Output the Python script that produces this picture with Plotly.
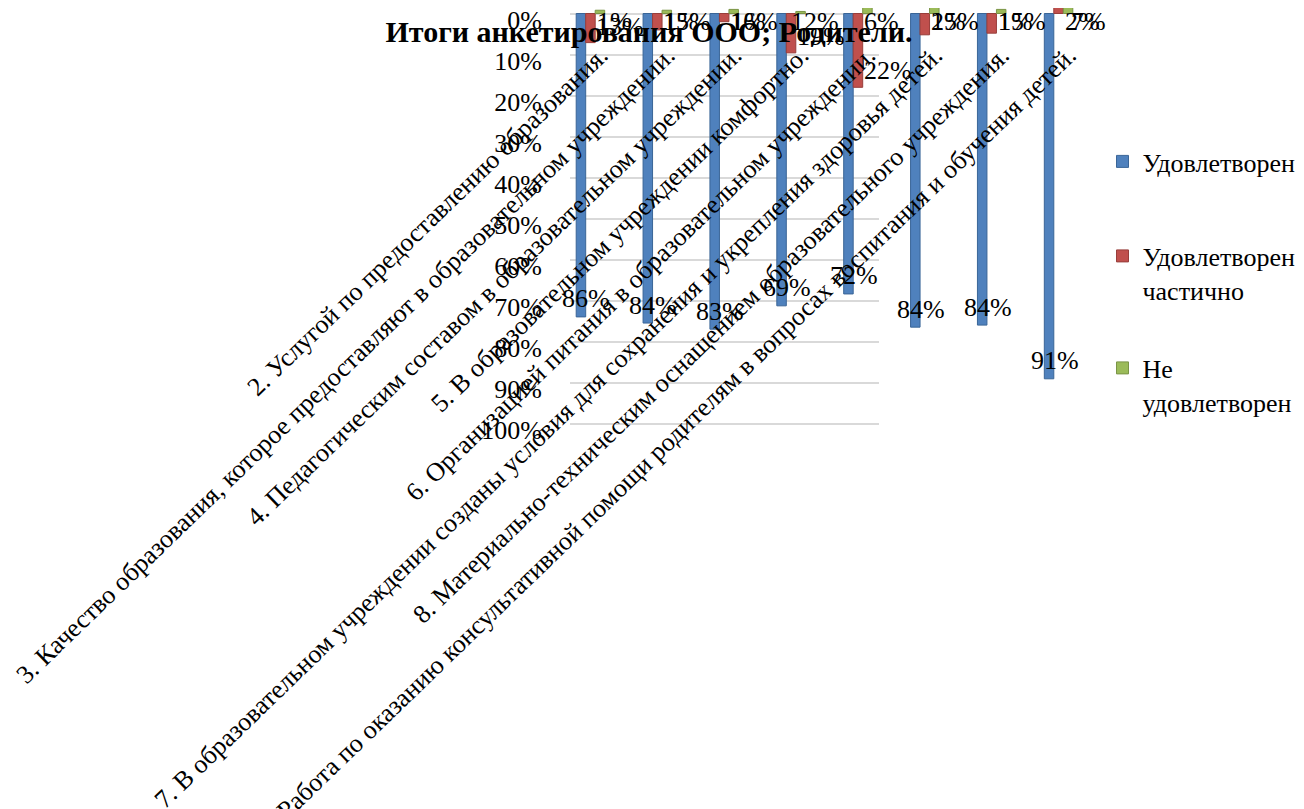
import plotly.graph_objects as go

categories = [
    "2. Услугой по предоставлению образования.",
    "3. Качество образования, которое предоставляют в образовательном учреждении.",
    "4. Педагогическим составом в образовательном учреждении.",
    "5. В образовательном учреждении комфортно.",
    "6. Организацией питания в образовательном учреждении.",
    "7. В образовательном учреждении созданы условия для сохранения и укрепления здоровья детей.",
    "8. Материально-техническим оснащением образовательного учреждения.",
    "9. Работа по оказанию консультативной помощи родителям в вопросах воспитания и обучения детей.",
]
series_names = ["Удовлетворен", "Удовлетворен<br>частично", "Не<br>удовлетворен"]

# bar lengths as drawn in the (distorted) picture
satisfied = [0.74, 0.755, 0.77, 0.713, 0.684, 0.765, 0.76, 0.891]
partly = [0.071, 0.04, 0.02, 0.096, 0.18, 0.052, 0.048, -0.035]
not_satisfied = [-0.008, -0.008, -0.01, -0.005, -0.05, -0.015, -0.01, -0.022]

# data label texts
satisfied_labels = ["86%", "84%", "83%", "69%", "72%", "84%", "84%", "91%"]
partly_labels = ["13%", "15%", "16%", "19%", "22%", "15%", "15%", "7%"]
not_labels = ["1%", "1%", "1%", "12%", "6%", "2%", "1%", "2%"]

tick_vals = [0, 0.1, 0.2, 0.3, 0.4, 0.5, 0.6, 0.7, 0.8, 0.9, 1.0]

FONT = "Liberation Serif, Times New Roman, serif"
colors = ["#4F81BD", "#C0504D", "#9BBB59"]
edges = ["#3A6597", "#983E3B", "#7A9446"]

# page body has an 8px margin: figure occupies screen px 8..1304 / 8..809
OFF = 8
W, H = 1304 - OFF, 809 - OFF


def X(s):
    return (s - OFF) / W


def Y(s):
    return 1 - (s - OFF) / H


fig = go.Figure()
# empty trace so that the gridline subplot is drawn
fig.add_scatter(x=[], y=[], xaxis="x", yaxis="y", showlegend=False, hoverinfo="skip")
legend_ids = ["legend", "legend2", "legend3"]
for name, vals, c, e, lg in zip(series_names, [satisfied, partly, not_satisfied], colors, edges, legend_ids):
    fig.add_bar(x=categories, y=vals, name=name, xaxis="x2", yaxis="y2", showlegend=True,
                marker=dict(color=c, line=dict(color=e, width=1)), legend=lg)

lab_font = dict(family=FONT, size=26, color="black")
ann = []
for i, cat in enumerate(categories):
    ann.append(dict(x=cat, y=satisfied[i], xref="x2", yref="y2", text=satisfied_labels[i],
                    showarrow=False, xshift=-4, yshift=18, font=lab_font))
    ann.append(dict(x=cat, y=max(partly[i] - 0.06, 0), xref="x2", yref="y2", text=partly_labels[i],
                    showarrow=False, xshift=30, yshift=-8, font=lab_font))
    ann.append(dict(x=cat, y=0, xref="x2", yref="y2", text=not_labels[i],
                    showarrow=False, xshift=24, yshift=-8, font=lab_font))

PX_PER = 410.0
ZERO = 13.5
yr = [(430 - ZERO) / PX_PER, (OFF - ZERO) / PX_PER]
leg_font = dict(family=FONT, size=26, color="black")


def legend_at(top):
    return dict(x=X(1102.5), xanchor="left", y=Y(top), yanchor="top", font=leg_font,
                valign="top", bgcolor="rgba(0,0,0,0)")


fig.update_layout(
    width=W, height=H, showlegend=True,
    margin=dict(l=0, r=0, t=0, b=0, autoexpand=False),
    paper_bgcolor="white", plot_bgcolor="rgba(0,0,0,0)",
    barmode="group", bargap=0.574, bargroupgap=0,
    font=dict(family=FONT, color="black"),
    title=dict(text="<b>Итоги анкетирования ООО; Родители.</b>", x=X(649), xanchor="center",
               y=Y(31), yref="container", yanchor="middle",
               font=dict(family=FONT, size=30, color="black")),
    xaxis=dict(domain=[X(570), X(879)], anchor="y", range=[0, 1], showgrid=False, automargin=False,
               showticklabels=False, zeroline=False, showline=False),
    yaxis=dict(domain=[Y(430), 1], anchor="x", range=yr, tickvals=tick_vals, automargin=False,
               tickformat=".0%", showgrid=True, gridcolor="#D9D9D9", gridwidth=2,
               zeroline=False, showline=False, ticks="outside", ticklen=22,
               ticklabeloverflow="allow", ticklabelshift=-6,
               tickcolor="rgba(0,0,0,0)", tickfont=dict(family=FONT, size=26, color="black")),
    xaxis2=dict(domain=[X(557), X(1092)], anchor="free", position=Y(34), side="bottom",
                range=[-0.5, 7.5], autorange=False, ticklabeloverflow="allow", ticklabelshift=10,
                tickangle=-44, tickmode="array", tickvals=categories, ticktext=categories,
                showgrid=False, zeroline=False, showline=False, ticks="", automargin=False,
                tickfont=dict(family=FONT, size=26, color="black")),
    yaxis2=dict(domain=[Y(430), 1], anchor="x2", range=yr, autorange=False, showgrid=False,
                automargin=False, showticklabels=False, zeroline=False, showline=False),
    legend=legend_at(138),
    legend2=legend_at(232.5),
    legend3=legend_at(344.5),
    annotations=ann,
)
fig.write_html("out.html")
